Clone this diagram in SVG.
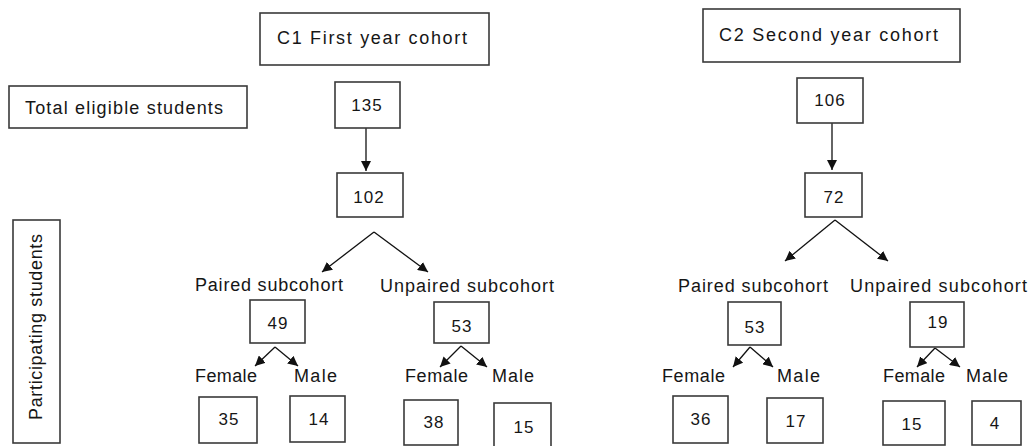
<svg xmlns="http://www.w3.org/2000/svg" width="1029" height="446" viewBox="0 0 1029 446">
<style>
.box{fill:#fff;stroke:#3a3a3a;stroke-width:1.6}
.t{font-family:"Liberation Sans",Arial,sans-serif;font-size:18px;fill:#161616}
.n{font-family:"Liberation Sans",Arial,sans-serif;font-size:17px;fill:#161616;text-anchor:middle;letter-spacing:1px}
.c{stroke:#111;stroke-width:1.3;fill:none;marker-end:url(#ah)}
</style>
<defs>
<marker id="ah" viewBox="0 0 10 10" refX="10" refY="5" markerWidth="10" markerHeight="10" markerUnits="userSpaceOnUse" orient="auto">
<path d="M0,0 L10,5 L0,10 z" fill="#111"/>
</marker>
</defs>
<rect width="1029" height="446" fill="#fff"/>

<g id="connectors">
<line class="c" x1="366" y1="128" x2="366" y2="171"/>
<line class="c" x1="832" y1="123" x2="832" y2="170"/>
<line class="c" x1="374" y1="232" x2="322" y2="272"/>
<line class="c" x1="374" y1="232" x2="428" y2="272"/>
<line class="c" x1="835" y1="220" x2="785" y2="261"/>
<line class="c" x1="835" y1="220" x2="888" y2="261"/>
<line class="c" x1="275" y1="347" x2="255" y2="366"/>
<line class="c" x1="275" y1="347" x2="298" y2="366"/>
<line class="c" x1="461" y1="346" x2="440" y2="367"/>
<line class="c" x1="461" y1="346" x2="487" y2="367"/>
<line class="c" x1="750" y1="347" x2="733" y2="367"/>
<line class="c" x1="750" y1="347" x2="773" y2="367"/>
<line class="c" x1="935" y1="348" x2="917" y2="367"/>
<line class="c" x1="935" y1="348" x2="960" y2="367"/>
</g>

<g id="c1-title"><rect class="box" x="260" y="13" width="229" height="52"/><text class="t" x="277" y="44" textLength="190">C1 First year cohort</text></g>
<g id="c2-title"><rect class="box" x="703" y="9" width="257" height="53"/><text class="t" x="719" y="41" textLength="219">C2 Second year cohort</text></g>
<g id="total-eligible"><rect class="box" x="9" y="86" width="238" height="42"/><text class="t" x="25" y="114" textLength="198">Total eligible students</text></g>
<g id="participating"><rect class="box" x="13" y="220" width="47" height="223"/><text class="t" transform="translate(42,420) rotate(-90)" x="0" y="0" textLength="186">Participating students</text></g>

<g id="c1-135"><rect class="box" x="335" y="82" width="65" height="46"/><text class="n" x="367" y="111">135</text></g>
<g id="c1-102"><rect class="box" x="337" y="173" width="66" height="44"/><text class="n" x="369" y="203">102</text></g>
<g id="c1-paired-label"><text class="t" x="195" y="291" textLength="148">Paired subcohort</text></g>
<g id="c1-unpaired-label"><text class="t" x="380" y="292" textLength="174">Unpaired subcohort</text></g>
<g id="c1-49"><rect class="box" x="250" y="300" width="55" height="43"/><text class="n" x="278" y="329">49</text></g>
<g id="c1-53"><rect class="box" x="434" y="302" width="55" height="41"/><text class="n" x="462" y="332">53</text></g>
<g id="c1-labels-sex">
<text class="t" x="195" y="382" textLength="62">Female</text>
<text class="t" x="294" y="382" textLength="43">Male</text>
<text class="t" x="405" y="382" textLength="63">Female</text>
<text class="t" x="492" y="382" textLength="42">Male</text>
</g>
<g id="c1-35"><rect class="box" x="199" y="397" width="58" height="46"/><text class="n" x="229" y="425">35</text></g>
<g id="c1-14"><rect class="box" x="290" y="396" width="55" height="46"/><text class="n" x="319" y="425">14</text></g>
<g id="c1-38"><rect class="box" x="404" y="400" width="54" height="45"/><text class="n" x="434" y="428">38</text></g>
<g id="c1-15"><rect class="box" x="494" y="403" width="57" height="50"/><text class="n" x="524" y="433">15</text></g>

<g id="c2-106"><rect class="box" x="797" y="78" width="66" height="45"/><text class="n" x="830" y="106">106</text></g>
<g id="c2-72"><rect class="box" x="805" y="173" width="57" height="44"/><text class="n" x="834" y="203">72</text></g>
<g id="c2-paired-label"><text class="t" x="678" y="292" textLength="150">Paired subcohort</text></g>
<g id="c2-unpaired-label"><text class="t" x="850" y="292" textLength="177">Unpaired subcohort</text></g>
<g id="c2-53"><rect class="box" x="728" y="302" width="53" height="43"/><text class="n" x="755" y="333">53</text></g>
<g id="c2-19"><rect class="box" x="910" y="302" width="54" height="45"/><text class="n" x="938" y="328">19</text></g>
<g id="c2-labels-sex">
<text class="t" x="662" y="382" textLength="63">Female</text>
<text class="t" x="777" y="382" textLength="43">Male</text>
<text class="t" x="883" y="382" textLength="62">Female</text>
<text class="t" x="966" y="382" textLength="42">Male</text>
</g>
<g id="c2-36"><rect class="box" x="673" y="396" width="55" height="47"/><text class="n" x="701" y="425">36</text></g>
<g id="c2-17"><rect class="box" x="767" y="398" width="56" height="45"/><text class="n" x="796" y="427">17</text></g>
<g id="c2-15"><rect class="box" x="883" y="401" width="62" height="44"/><text class="n" x="912" y="430">15</text></g>
<g id="c2-4"><rect class="box" x="972" y="401" width="49" height="44"/><text class="n" x="995" y="429">4</text></g>
</svg>
